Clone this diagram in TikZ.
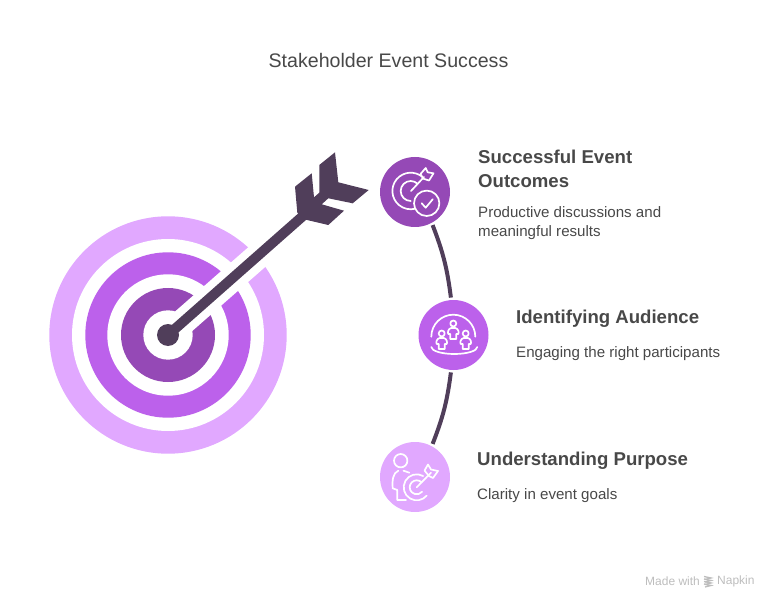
\documentclass[tikz,border=0pt]{standalone}
\usepackage{fontspec}
\setmainfont{Liberation Sans}
\definecolor{lilac}{HTML}{E1A8FF}
\definecolor{orchid}{HTML}{BC61EB}
\definecolor{grape}{HTML}{9549B6}
\definecolor{plum}{HTML}{503E5A}
\definecolor{inkgrey}{HTML}{484848}
\definecolor{markgrey}{HTML}{BDBDBD}
\begin{document}
\begin{tikzpicture}[x=1pt,y=1pt,yscale=-1]
  \tikzstyle{ring} = [circle, inner sep=0pt, outer sep=0pt]
  \tikzstyle{stage} = [circle, inner sep=0pt, outer sep=2.5pt, minimum size=70pt]
  \tikzstyle{heading} = [anchor=west, align=left, inner sep=0pt, text=inkgrey,
                                    font=\fontsize{18.6}{24}\selectfont\bfseries]
  \tikzstyle{detail} = [anchor=west, align=left, inner sep=0pt, text=inkgrey,
                                    font=\fontsize{15.1}{18.5}\selectfont]
  \tikzstyle{madewith} = [anchor=west, inner sep=0pt, text=markgrey, font=\fontsize{12}{14}\selectfont]
  \tikzstyle{connector} = [plum, line width=4pt]
  \tikzstyle{icon} = [white, line width=1.7pt, line join=round, line cap=round]
\useasboundingbox (0,0) rectangle (778,609);
\node[text=inkgrey, font=\fontsize{19.6}{22}\selectfont] (title) at (388.5,60) {Stakeholder Event Success};
% target
\foreach \ringname/\ringsize/\ringcolor in {ringa/237.4/lilac,ringb/192/white,ringc/165.4/orchid,
    ringd/121.4/white,ringe/94/grape,ringf/49.4/white}
  \node[ring, minimum size=\ringsize pt, fill=\ringcolor] (\ringname) at (168,335) {};
\coordinate (gapend) at (266,249);
\coordinate (fletchend) at (312,208);
\draw[white, line width=26pt] (ringf.center) -- (gapend);
\draw[plum, line width=10pt] (ringf.center) -- (fletchend);
\node[ring, minimum size=22pt, fill=plum] (bull) at (168,335) {};
\fill[plum] (297.3,212.7) -- (295,186.7) -- (311.7,173.3) -- (314,197.3) -- (319.3,192.7)
  -- (319.3,165) -- (335,152.3) -- (338.3,182.3) -- (368.7,190) -- (352.7,203.3)
  -- (328.3,198.3) -- (321.7,204.3) -- (344,210.7) -- (328.3,225) -- (304,219.3) -- cycle;
% stages
\node[stage, fill=grape] (outcomes) at (415,192) {};
\node[stage, fill=orchid] (audience) at (453.5,335) {};
\node[stage, fill=lilac] (purpose) at (415,477) {};
\draw[connector] (outcomes.-62) to[bend right=7] (audience.94.5);
\draw[connector] (audience.-94.5) to[bend right=7] (purpose.62);
% outcomes icon
\draw[icon] (410.7,191) ++(-50:18.3) arc (-50:-285:18.3);
\draw[icon] (410.7,191) ++(-45:10) arc (-45:-270:10);
\draw[icon] (411,191) -- (424,177);
\draw[icon] (420.5,174) -- (425.7,168) -- (427.7,172.3) -- (433.5,173.3) -- (429,180.5) -- (423.3,178.7) -- cycle;
\draw[icon] (426.7,203.3) circle (12.7);
\draw[icon] (421.7,203.3) -- (425.7,207.7) -- (432.7,199.3);
% audience icon
\draw[icon] (431.3,336.7) arc (180:360:22);
\draw[icon] (431.3,347) arc (180:0:23 and 7);
\foreach \px/\py in {453.3/323.5,441.7/333.5,465.7/333.5} {
  \draw[icon] (\px,\py) circle (3);
  \draw[icon] (\px-2,\py+4.5) -- (\px+2,\py+4.5) .. controls (\px+5,\py+5) and (\px+6,\py+9) .. (\px+5,\py+10.5)
    -- (\px+3,\py+10.5) -- (\px+3,\py+15.5) -- (\px-3,\py+15.5) -- (\px-3,\py+10.5) -- (\px-5,\py+10.5)
    .. controls (\px-6,\py+9) and (\px-5,\py+5) .. (\px-2,\py+4.5);
}
% purpose icon
\draw[icon] (400.7,460.7) circle (6.7);
\draw[icon] (398.3,470.7) .. controls (393,473) and (392,480) .. (392.7,488.3) -- (397.3,490) -- (397.3,500) -- (406,500);
\draw[icon] (403.5,470.7) -- (409.3,472.7);
\draw[icon] (416.7,487.3) ++(-60:13) arc (-60:-320:13);
\draw[icon] (416.7,487.3) ++(-45:7) arc (-45:-320:7);
\draw[icon] (416.7,487.3) -- (431,472.7);
\draw[icon] (424.5,470.5) -- (428,464.5) -- (431,469.5) -- (438,471) -- (433,478) -- (429,476) -- cycle;
% texts
\node[heading] (outcomeshead) at (478,168.5) {Successful Event\\Outcomes};
\node[detail] (outcomestext) at (478,223) {Productive discussions and\\meaningful results};
\node[heading] (audiencehead) at (516,318.5) {Identifying Audience};
\node[detail] (audiencetext) at (516,354) {Engaging the right participants};
\node[heading] (purposehead) at (477,460.5) {Understanding Purpose};
\node[detail] (purposetext) at (477,496) {Clarity in event goals};
% watermark
\node[madewith] (madewithtext) at (645,581.5) {Made with};
\node[madewith] (napkin) at (717,581.5) {Napkin};
\foreach \stripe in {576.5,579,581.5,584}
  \draw[markgrey, line width=1.3pt] (704,\stripe) -- (711,\stripe+1.5) -- (705,\stripe+3);
\end{tikzpicture}
\end{document}
